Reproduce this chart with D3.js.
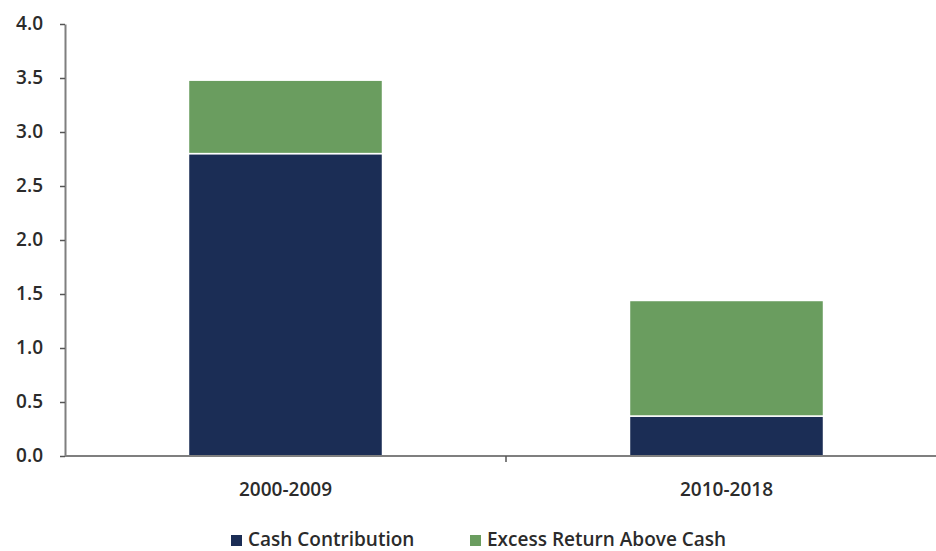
<!DOCTYPE html>
<html>
<head>
<meta charset="utf-8">
<script src="https://cdn.jsdelivr.net/npm/d3@7"></script>
<style>
  body { margin: 0; background: #fff; }
  text { font-family: "Open Sans", sans-serif; fill: #2b2b2b; }
</style>
</head>
<body>
<div id="chart"></div>
<script>
// data
const periods = ["2000-2009", "2010-2018"];
const cashContribution = [2.80, 0.37];
const excessReturn = [0.68, 1.07];
const seriesNames = ["Cash Contribution", "Excess Return Above Cash"];
const seriesColors = ["#1b2d55", "#6a9d5f"];
const yTicks = [0, 0.5, 1, 1.5, 2, 2.5, 3, 3.5, 4];

const W = 936, H = 551;
const margin = {top: 24, right: -11, bottom: 95, left: 65};

const svg = d3.select("#chart").append("svg")
    .attr("width", W)
    .attr("height", H);

const x = d3.scaleBand()
    .domain(periods)
    .range([margin.left, W - margin.right])
    .paddingInner(0.56)
    .paddingOuter(0.28);

const y = d3.scaleLinear()
    .domain([0, 4])
    .range([H - margin.bottom, margin.top]);

// stack the two series
const rows = periods.map((p, i) => ({period: p, cash: cashContribution[i], excess: excessReturn[i]}));
const stacked = d3.stack().keys(["cash", "excess"])(rows);

svg.append("g")
  .selectAll("g")
  .data(stacked)
  .join("g")
    .attr("fill", (d, i) => seriesColors[i])
  .selectAll("rect")
  .data(d => d)
  .join("rect")
    .attr("x", d => x(d.data.period))
    .attr("width", x.bandwidth())
    .attr("y", d => y(d[1]))
    .attr("height", d => y(d[0]) - y(d[1]))
    .attr("stroke", "#fff")
    .attr("stroke-width", 1.5);

// y axis
const yAxis = svg.append("g")
    .attr("transform", `translate(${margin.left},0)`)
    .call(d3.axisLeft(y).tickValues(yTicks).tickFormat(d3.format(".1f")).tickSize(5).tickSizeOuter(0));
yAxis.select(".domain").attr("stroke", "#7f7f7f").attr("stroke-width", 2);
yAxis.selectAll(".tick line").attr("stroke", "#555").attr("stroke-width", 1.5);
yAxis.selectAll(".tick text")
    .attr("x", -22)
    .attr("dy", "0.3em")
    .attr("font-size", 19)
    .attr("font-weight", 600)
    .attr("font-family", "Open Sans, sans-serif")
    .attr("fill", "#2b2b2b");

// x axis: line with tick between categories
const baseY = y(0);
const xAxis = svg.append("g").attr("transform", `translate(0,${baseY})`);
xAxis.append("line")
    .attr("x1", margin.left).attr("x2", W)
    .attr("stroke", "#7f7f7f").attr("stroke-width", 2);
const midTick = (x(periods[0]) + x.bandwidth() + x(periods[1])) / 2;
xAxis.append("line")
    .attr("x1", midTick).attr("x2", midTick)
    .attr("y1", 0).attr("y2", 6)
    .attr("stroke", "#555").attr("stroke-width", 1.5);

xAxis.selectAll("text.cat")
  .data(periods)
  .join("text")
    .attr("class", "cat")
    .attr("x", d => x(d) + x.bandwidth() / 2)
    .attr("y", 40)
    .attr("text-anchor", "middle")
    .attr("font-size", 19)
    .attr("font-weight", 600)
    .text(d => d);

// legend
const legendX = [231, 470];
const legend = svg.append("g").attr("transform", "translate(0,539)");
legend.selectAll("rect")
  .data(seriesNames)
  .join("rect")
    .attr("x", (d, i) => legendX[i])
    .attr("y", -4)
    .attr("width", 11)
    .attr("height", 11)
    .attr("fill", (d, i) => seriesColors[i]);
legend.selectAll("text")
  .data(seriesNames)
  .join("text")
    .attr("x", (d, i) => legendX[i] + 17)
    .attr("y", 0)
    .attr("dy", "0.35em")
    .attr("font-size", 19)
    .attr("font-weight", 600)
    .text(d => d);
</script>
</body>
</html>
